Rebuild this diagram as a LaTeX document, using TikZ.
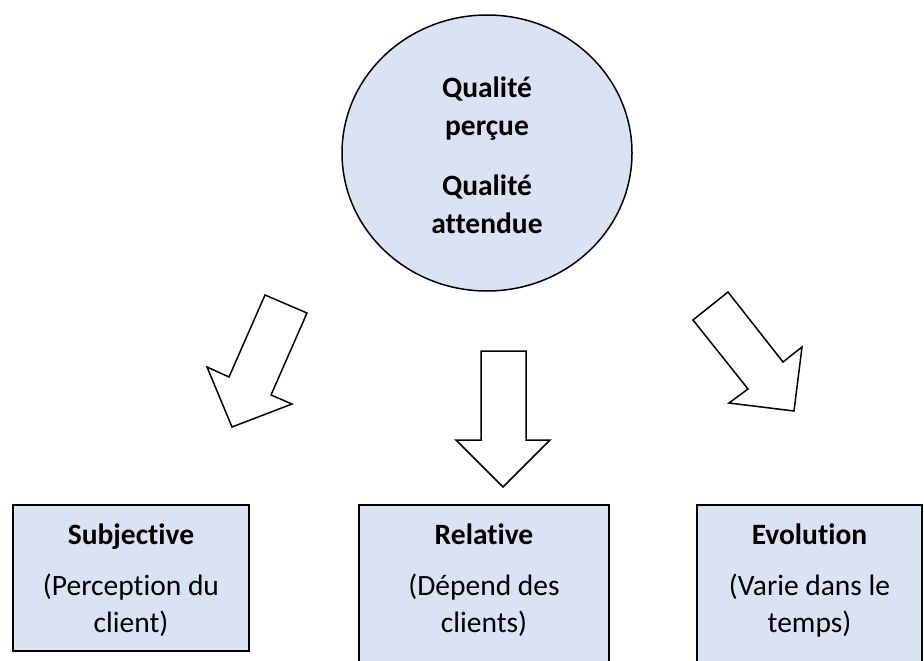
\documentclass[tikz,border=0pt]{standalone}
\usepackage{fontspec}
\setmainfont{Carlito}[Ligatures={NoCommon}]
\usetikzlibrary{shapes.geometric}
\definecolor{boxfill}{HTML}{DAE3F3}
\tikzset{
  ctext/.style={font=\fontsize{29.5}{35}\selectfont\bfseries, anchor=base, inner sep=0pt},
  htext/.style={font=\fontsize{29.5}{35}\selectfont\bfseries, anchor=base, inner sep=0pt},
  ntext/.style={font=\fontsize{29.5}{35}\selectfont, anchor=base, inner sep=0pt},
  blockarrow/.style={draw=black, line width=1.5pt, fill=white, line join=miter},
  infobox/.style={draw=black, line width=1.6pt, fill=boxfill, rectangle, inner sep=0pt},
}
\begin{document}
\begin{tikzpicture}[x=1pt,y=-1pt]
\clip (0,0) rectangle (924,661);
\fill[white] (0,0) rectangle (924,661);
% central ellipse
\node[ellipse, draw=black, line width=1.5pt, fill=boxfill, minimum width=290pt, minimum height=276pt, inner sep=0pt] (c) at (487,153) {};
\node[ctext] (c1) at (487,97) {Qualité};
\node[ctext] (c2) at (487,135) {perçue};
\node[ctext] (c3) at (487,195) {Qualité};
\node[ctext] (c4) at (487,233) {attendue};
% block arrows
\draw[blockarrow] (265,295) -- (307,313) -- (271,395) -- (292,404) -- (232,427) -- (207,367) -- (229,377) -- cycle;
\draw[blockarrow] (481,351) -- (526,351) -- (526,440) -- (550,440) -- (503,487) -- (456,440) -- (481,440) -- cycle;
\draw[blockarrow] (693,320) -- (728,292) -- (783,362) -- (802,347) -- (794,411) -- (729,403) -- (748,389) -- cycle;
% boxes
\node[infobox, minimum width=236pt, minimum height=146pt] (b1) at (131,578) {};
\node[infobox, minimum width=250pt, minimum height=166pt] (b2) at (484,588) {};
\node[infobox, minimum width=225pt, minimum height=166pt] (b3) at (809.5,588) {};
\node[htext] (t1) at (131,544) {Subjective};
\node[ntext] (t1a) at (131,595) {(Perception du};
\node[ntext] (t1b) at (131,632) {client)};
\node[htext] (t2) at (484,544) {Relative};
\node[ntext] (t2a) at (484,595) {(Dépend des};
\node[ntext] (t2b) at (484,632) {clients)};
\node[htext] (t3) at (809.5,544) {Evolution};
\node[ntext] (t3a) at (809.5,595) {(Varie dans le};
\node[ntext] (t3b) at (809.5,632) {temps)};
\end{tikzpicture}
\end{document}
